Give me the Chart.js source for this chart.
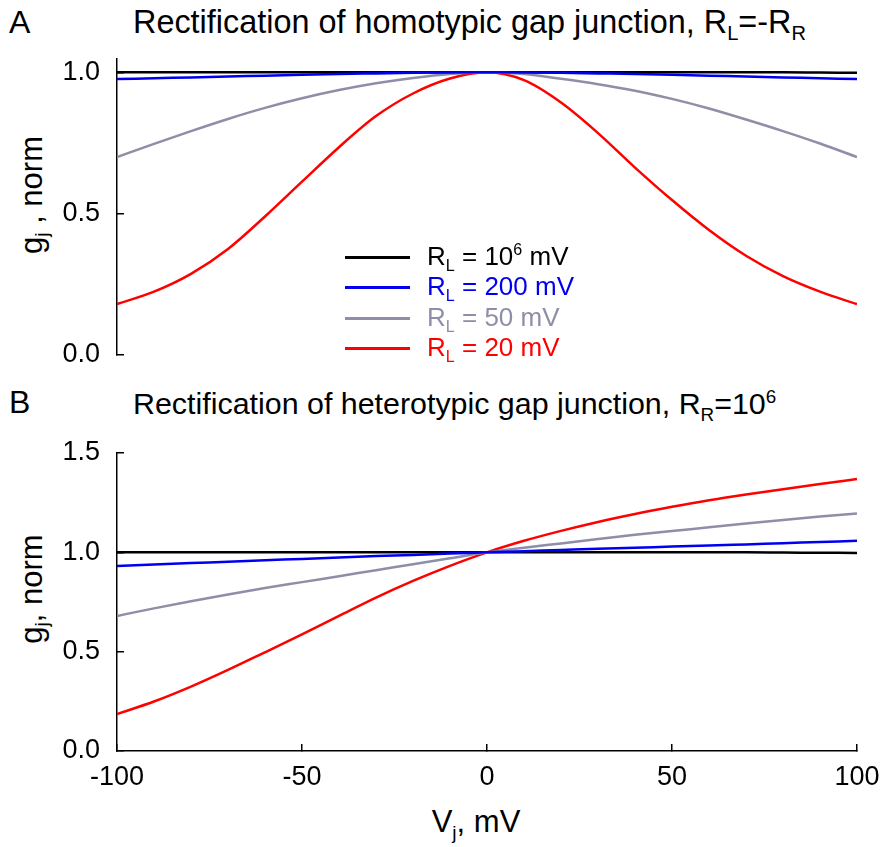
<!DOCTYPE html>
<html>
<head>
<meta charset="utf-8">
<script src="https://cdn.jsdelivr.net/npm/chart.js@4.4.1/dist/chart.umd.min.js"></script>
<style>
  body { margin: 0; background: #fff; width: 884px; height: 847px; position: relative; overflow: hidden;
         font-family: "Liberation Sans", Arial, sans-serif; color: #000; }
  canvas { position: absolute; left: 0; }
  .txt { position: absolute; white-space: nowrap; line-height: 1; }
  .title { font-family: "Liberation Sans Narrow", "Liberation Sans", sans-serif; font-size: 31px; }
  .letter { font-size: 32px; }
  .axlab { font-size: 31px; }
  .ylab { transform: translate(-50%, -50%) rotate(-90deg); }
  sub { font-size: 0.62em; vertical-align: -0.35em; line-height: 0; }
  sup { font-size: 0.62em; vertical-align: 0.6em; line-height: 0; }
  .leg-row { position: absolute; height: 2px; }
  .leg-line { position: absolute; left: 0; width: 65px; height: 2.5px; top: -1px; }
  .leg-text { position: absolute; left: 82px; top: -14px; font-size: 26px; white-space: nowrap; line-height: 1; }
</style>
</head>
<body>

<div class="txt letter" style="left:9px; top:6px;">A</div>
<div class="txt title" style="left:133px; top:6px; font-size:32.4px;">Rectification of homotypic gap junction, R<sub>L</sub>=-R<sub>R</sub></div>
<div class="txt letter" style="left:9px; top:386px;">B</div>
<div class="txt title" style="left:133px; top:388px; font-size:30.4px;">Rectification of heterotypic gap junction, R<sub>R</sub>=10<sup>6</sup></div>

<div class="txt axlab ylab" style="left:31px; top:195px;">g<sub>j</sub> , norm</div>
<div class="txt axlab ylab" style="left:31px; top:589px;">g<sub>j</sub>, norm</div>
<div class="txt axlab" style="left:476px; top:806px; transform: translateX(-50%);">V<sub>j</sub>, mV</div>

<canvas id="chartA" width="884" height="380" style="top:0px;"></canvas>
<canvas id="chartB" width="884" height="467" style="top:380px;"></canvas>
<div id="legend"></div>

<script>
// junctional voltage, mV
const vj = [-100, -90, -80, -70, -60, -50, -40, -30, -20, -10, 0, 10, 20, 30, 40, 50, 60, 70, 80, 90, 100];

// A: homotypic, normalized gj for R_L = 10^6, 200, 50, 20 mV
const homoR1e6 = [1.0, 1.0, 1.0, 1.0, 1.0, 1.0, 1.0, 1.0, 1.0, 1.0, 1.0, 1.0, 1.0, 1.0, 1.0, 1.0, 1.0, 1.0, 1.0, 0.999, 0.998];
const homoR200 = [0.976, 0.979, 0.982, 0.985, 0.988, 0.991, 0.994, 0.996, 0.998, 0.9995, 1.0, 0.9995, 0.998, 0.996, 0.994, 0.991, 0.988, 0.985, 0.982, 0.979, 0.976];
const homoR50 = [0.70, 0.747, 0.792, 0.835, 0.874, 0.908, 0.937, 0.961, 0.980, 0.994, 1.0, 0.994, 0.977, 0.958, 0.935, 0.906, 0.872, 0.833, 0.792, 0.748, 0.70];
const homoR20 = [0.18, 0.224, 0.287, 0.375, 0.49, 0.613, 0.735, 0.845, 0.925, 0.978, 1.0, 0.972, 0.893, 0.785, 0.663, 0.548, 0.442, 0.351, 0.279, 0.224, 0.18];

// B: heterotypic, R_R = 10^6
const heteroR1e6 = [1.0, 1.0, 1.0, 1.0, 1.0, 1.0, 1.0, 1.0, 1.0, 1.0, 1.0, 1.0, 1.0, 1.0, 1.0, 1.0, 1.0, 1.0, 0.999, 0.998, 0.997];
const heteroR200 = [0.931, 0.939, 0.946, 0.953, 0.96, 0.967, 0.974, 0.981, 0.987, 0.994, 1.0, 1.006, 1.012, 1.018, 1.023, 1.029, 1.034, 1.04, 1.046, 1.052, 1.058];
const heteroR50 = [0.68, 0.718, 0.754, 0.788, 0.82, 0.85, 0.88, 0.91, 0.94, 0.97, 1.0, 1.023, 1.045, 1.067, 1.088, 1.107, 1.126, 1.145, 1.163, 1.18, 1.196];
const heteroR20 = [0.186, 0.249, 0.324, 0.408, 0.497, 0.587, 0.68, 0.772, 0.856, 0.932, 1.0, 1.058, 1.108, 1.153, 1.193, 1.229, 1.262, 1.291, 1.318, 1.344, 1.369];

const seriesLabels = ['R<sub>L</sub> = 10<sup>6</sup> mV', 'R<sub>L</sub> = 200 mV', 'R<sub>L</sub> = 50 mV', 'R<sub>L</sub> = 20 mV'];
const seriesColors = ['#000000', '#0000f0', '#8e8ea8', '#ff0000'];
const drawOrder = [4, 1, 2, 3]; // lower = drawn on top

const yTicksA = [0, 0.5, 1.0];
const yTicksB = [0, 0.5, 1.0, 1.5];
const xTicks = [-100, -50, 0, 50, 100];

function toPoints(ys) {
    return vj.map((x, i) => ({ x: x, y: ys[i] }));
}

function makeDatasets(series) {
    return series.map((ys, i) => ({
        data: toPoints(ys),
        borderColor: seriesColors[i],
        borderWidth: 2.5,
        pointRadius: 0,
        fill: false,
        cubicInterpolationMode: 'monotone',
        order: drawOrder[i]
    }));
}

const tickFont = { family: 'Liberation Sans', size: 27 };

function yAxis(max, tickList) {
    return {
        type: 'linear', min: 0, max: max,
        afterBuildTicks: s => { s.ticks = tickList.map(v => ({ value: v })); },
        afterFit: s => { s.width = 117; s.paddingTop = 0; s.paddingBottom = 0; },
        ticks: { color: '#000', font: tickFont, padding: 24, callback: v => Number(v).toFixed(1) },
        grid: { drawOnChartArea: false, tickLength: -7, color: '#000', lineWidth: 1.5 },
        border: { display: true, color: '#000', width: 1.5 }
    };
}

function xAxis(show) {
    return {
        type: 'linear', min: -100, max: 100, display: show,
        afterBuildTicks: s => { s.ticks = xTicks.map(v => ({ value: v })); },
        afterFit: s => {
            s.height = show ? 96 : 0;
            s.paddingLeft = 0;
            s.paddingRight = 0;
        },
        ticks: { color: '#000', font: tickFont, padding: 17, maxRotation: 0 },
        grid: { drawOnChartArea: false, tickLength: -7, color: '#000', lineWidth: 1.5 },
        border: { display: true, color: '#000', width: 1.5 }
    };
}

function baseOptions(padTop, padBottom, yOpts, showX) {
    return {
        responsive: false,
        animation: false,
        layout: { padding: { left: 0, right: 27, top: padTop, bottom: padBottom } },
        plugins: { legend: { display: false }, tooltip: { enabled: false } },
        scales: { x: xAxis(showX), y: yOpts }
    };
}

new Chart(document.getElementById('chartA'), {
    type: 'line',
    data: { datasets: makeDatasets([homoR1e6, homoR200, homoR50, homoR20]) },
    options: baseOptions(59, 25, yAxis(1.047, yTicksA), false)
});

new Chart(document.getElementById('chartB'), {
    type: 'line',
    data: { datasets: makeDatasets([heteroR1e6, heteroR200, heteroR50, heteroR20]) },
    options: baseOptions(73, 0, yAxis(1.5, yTicksB), true)
});

// legend for panel A
const legend = document.getElementById('legend');
const legendTops = [257, 287, 318, 348];
seriesLabels.forEach((lab, i) => {
    const row = document.createElement('div');
    row.className = 'leg-row';
    row.style.left = '345px';
    row.style.top = legendTops[i] + 'px';
    row.innerHTML = '<div class="leg-line" style="background:' + seriesColors[i] + '"></div>' +
        '<div class="leg-text" style="color:' + seriesColors[i] + '">' + lab + '</div>';
    legend.appendChild(row);
});
</script>
</body>
</html>
